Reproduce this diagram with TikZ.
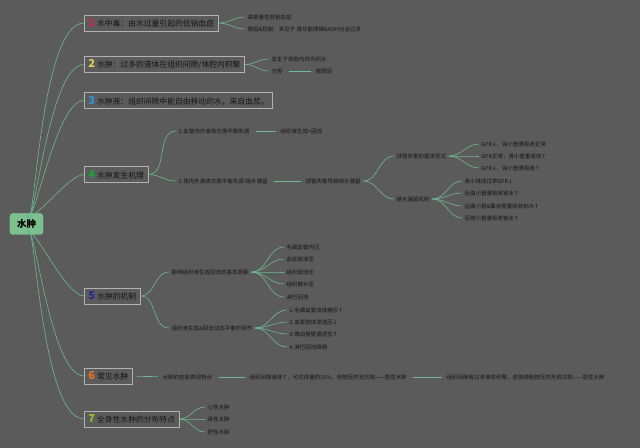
\documentclass[tikz,border=0pt]{standalone}
\usepackage{fontspec}
\setmainfont{Noto Sans CJK SC}
\newfontfamily\arrowfont{DejaVu Sans}
\usepackage{tikz}
\usetikzlibrary{positioning}
\usepackage{xcolor}
\definecolor{bggray}{RGB}{90,91,90}
\definecolor{boxgray}{RGB}{178,178,178}
\definecolor{rootgreen}{RGB}{124,192,142}
\definecolor{linkgreen}{RGB}{112,184,152}
\definecolor{numred}{RGB}{200,40,70}
\definecolor{numyellow}{RGB}{232,206,80}
\definecolor{numblue}{RGB}{52,146,214}
\definecolor{numgreen}{RGB}{30,160,60}
\definecolor{numnavy}{RGB}{40,40,140}
\definecolor{numorange}{RGB}{240,112,30}
\definecolor{numlime}{RGB}{150,196,30}
\newcommand\topicnum[2]{\textcolor{#1}{\fontsize{11bp}{11bp}\selectfont\bfseries #2}\hspace{2bp}}
\newcommand\uarr{{\arrowfont ↑}}
\newcommand\darr{{\arrowfont ↓}}

\begin{document}
\begin{tikzpicture}[x=1bp,y=-1bp,
    root/.style={rounded corners=3bp,fill=rootgreen,draw=rootgreen!85!white,minimum width=33bp,minimum height=21bp,inner sep=0pt,font=\fontsize{9.5bp}{10bp}\selectfont\bfseries,text=black},
    topic/.style={draw=boxgray,line width=0.7pt,fill=bggray,anchor=west,minimum height=16bp,inner xsep=4bp,inner ysep=0pt,font=\fontsize{7.8bp}{8bp}\selectfont,text=black!92},
    leaf/.style={anchor=west,inner xsep=2.5bp,inner ysep=1bp,font=\fontsize{5.5bp}{6bp}\selectfont,text=black!92},
    link/.style={linkgreen,line width=0.6pt},
    up/.style={link,out=-80,in=180,looseness=0.6},
    down/.style={link,out=80,in=180,looseness=0.6},
    fan/.style={link,out=0,in=180},
    chain/.style={link,shorten <=4bp,shorten >=2bp}
  ]
    \fill[bggray] (0,0) rectangle (640,448);
    \useasboundingbox (0,0) rectangle (640,448);

    \node[root] (root) at (26.5,224) {水肿};

    % main topics
    \node[topic] (b1) at (84,23) {\topicnum{numred}{1}水中毒：由水过量引起的低钠血症};
    \node[topic] (b2) at (84,64.5) {\topicnum{numyellow}{2}水肿：过多的液体在组织间隙/体腔内积聚};
    \node[topic] (b3) at (84,100.5) {\topicnum{numblue}{3}水肿液：组织间隙中能自由移动的水，来自血浆。};
    \node[topic] (b4) at (84,174.5) {\topicnum{numgreen}{4}水肿发生机理};
    \node[topic] (b5) at (84,296) {\topicnum{numnavy}{5}水肿的机制};
    \node[topic] (b6) at (84,376) {\topicnum{numorange}{6}常见水肿};
    \node[topic] (b7) at (84,419) {\topicnum{numlime}{7}全身性水肿的分布特点};

    \draw[up] (root.north) to (b1.west); \draw[up] (root.north) to (b2.west);
    \draw[up] (root.north) to (b3.west); \draw[up] (root.north) to (b4.west);
    \draw[down] (root.south) to (b5.west); \draw[down] (root.south) to (b6.west);
    \draw[down] (root.south) to (b7.west);

    % 1
    \node[leaf] (l1a) at (245,17) {高容量性低钠血症};
    \node[leaf] (l1b) at (245,29) {原因\&机制：多见于 肾功能障碍\&ADH分泌过多};
    \draw[fan] (b1.east) to (l1a.west); \draw[fan] (b1.east) to (l1b.west);

    % 2
    \node[leaf] (l2a) at (269,59) {发生于体腔内称为积水};
    \node[leaf] (l2b) at (269,71) {分类};
    \node[leaf] (l2c) at (313,71) {按原因};
    \draw[fan] (b2.east) to (l2a.west); \draw[fan] (b2.east) to (l2b.west);
    \draw[chain] (l2b) -- (l2c);

    % 4
    \node[leaf] (l4a) at (176,131) {1.血管内外液体交换平衡失调};
    \node[leaf] (l4a2) at (278,131) {组织液生成>回流};
    \node[leaf] (l4b) at (176,181) {2.体内外液体交换平衡失调-钠水潴留};
    \node[leaf] (l4b2) at (303,181) {球管失衡导致钠水潴留};
    \draw[fan] (b4.east) to (l4a.west); \draw[fan] (b4.east) to (l4b.west);
    \draw[chain] (l4a) -- (l4a2); \draw[chain] (l4b) -- (l4b2);

    \node[leaf] (l4c) at (394,156) {球管失衡的基本形式};
    \node[leaf] (l4d) at (394,199) {钠水潴留机制};
    \draw[fan] (l4b2.east) to (l4c.west); \draw[fan] (l4b2.east) to (l4d.west);

    \node[leaf] (l4c1) at (479,144) {GFR\darr，肾小管重吸收正常};
    \node[leaf] (l4c2) at (479,156) {GFR正常，肾小管重吸收\uarr};
    \node[leaf] (l4c3) at (479,168) {GFR\darr，肾小管重吸收\uarr};
    \draw[fan] (l4c.east) to (l4c1.west); \draw[fan] (l4c.east) to (l4c2.west);
    \draw[fan] (l4c.east) to (l4c3.west);

    \node[leaf] (l4d1) at (462,181) {肾小球滤过率GFR\darr};
    \node[leaf] (l4d2) at (462,193) {近曲小管重吸收钠水\uarr};
    \node[leaf] (l4d3) at (462,206) {远曲小管\&集合管重吸收钠水\uarr};
    \node[leaf] (l4d4) at (462,218) {近端小管重吸收钠水\uarr};
    \draw[fan] (l4d.east) to (l4d1.west); \draw[fan] (l4d.east) to (l4d2.west);
    \draw[fan] (l4d.east) to (l4d3.west); \draw[fan] (l4d.east) to (l4d4.west);

    % 5
    \node[leaf] (l5a) at (169,272) {影响组织液生成回流的基本因素};
    \node[leaf] (l5b) at (169,328) {组织液生成\&回流动态平衡的调节};
    \draw[fan] (b5.east) to (l5a.west); \draw[fan] (b5.east) to (l5b.west);

    \node[leaf] (l5a1) at (284,247) {毛细血管内压};
    \node[leaf] (l5a2) at (284,259) {血浆胶渗压};
    \node[leaf] (l5a3) at (284,272) {组织胶渗压};
    \node[leaf] (l5a4) at (284,284) {组织静水压};
    \node[leaf] (l5a5) at (284,297) {淋巴回流};
    \draw[fan] (l5a.east) to (l5a1.west); \draw[fan] (l5a.east) to (l5a2.west);
    \draw[fan] (l5a.east) to (l5a3.west); \draw[fan] (l5a.east) to (l5a4.west);
    \draw[fan] (l5a.east) to (l5a5.west);

    \node[leaf] (l5b1) at (287,310) {1.毛细血管流体静压\uarr};
    \node[leaf] (l5b2) at (287,322) {2.血浆胶体渗透压\darr};
    \node[leaf] (l5b3) at (287,334) {3.微血管壁通透性\uarr};
    \node[leaf] (l5b4) at (287,347) {4.淋巴回流障碍};
    \draw[fan] (l5b.east) to (l5b1.west); \draw[fan] (l5b.east) to (l5b2.west);
    \draw[fan] (l5b.east) to (l5b3.west); \draw[fan] (l5b.east) to (l5b4.west);

    % 6
    \node[leaf] (l6a) at (160,377) {水肿的皮肤表现特点};
    \node[leaf] (l6b) at (247,377) {组织间隙液体\uarr，可达体重的10\%，但按压时无凹陷——隐性水肿};
    \node[leaf] (l6c) at (444,377) {组织间隙有过多液体积聚，皮肤肿胀按压时形成凹陷——显性水肿};
    \draw[chain] (b6) -- (l6a);
    \draw[chain] (l6a) -- (l6b); \draw[chain] (l6b) -- (l6c);

    % 7
    \node[leaf] (l7a) at (205,407) {心性水肿};
    \node[leaf] (l7b) at (205,419) {肾性水肿};
    \node[leaf] (l7c) at (205,432) {肝性水肿};
    \draw[fan] (b7.east) to (l7a.west); \draw[fan] (b7.east) to (l7b.west);
    \draw[fan] (b7.east) to (l7c.west);
  \end{tikzpicture}
\end{document}
